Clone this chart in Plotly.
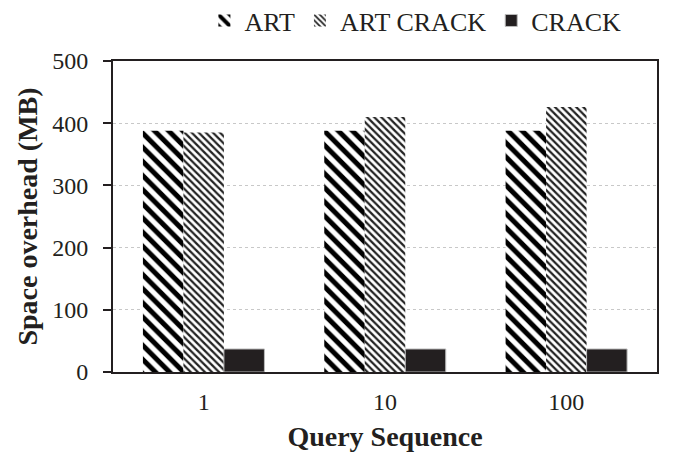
import plotly.graph_objects as go

queries = ["1", "10", "100"]
art = [388, 388, 388]
art_crack = [385, 410, 426]
crack = [37, 37, 37]

fig = go.Figure()

fig.add_trace(go.Bar(
    x=queries, y=art, name="ART",
    marker=dict(color="white", line=dict(width=0),
                pattern=dict(shape="\\", size=10, solidity=0.5,
                             fgcolor="black", bgcolor="white", fgopacity=1)),
))
fig.add_trace(go.Bar(
    x=queries, y=art_crack, name="ART CRACK",
    marker=dict(color="white", line=dict(width=0),
                pattern=dict(shape="\\", size=5, solidity=0.45,
                             fgcolor="#222222", bgcolor="white", fgopacity=1)),
))
fig.add_trace(go.Bar(
    x=queries, y=crack, name="CRACK",
    marker=dict(color="#231f20", line=dict(width=1, color="#bbbbbb")),
))

font = "Liberation Serif, Times New Roman, serif"

# page body adds an 8px offset, margins compensate for it
fig.update_layout(
    width=676, height=471,
    margin=dict(l=105, r=27, t=53, b=107, autoexpand=False),
    barmode="group",
    bargap=0.33,
    bargroupgap=0,
    plot_bgcolor="white",
    paper_bgcolor="white",
    font=dict(family=font, size=24, color="#231f20"),
    legend=dict(orientation="h", x=0.168, xanchor="left", y=1.13, yanchor="middle",
                font=dict(size=26), itemwidth=30, traceorder="normal"),
    xaxis=dict(
        title=dict(text="<b>Query Sequence</b>", font=dict(size=28), standoff=13),
        showline=True, linecolor="#231f20", linewidth=2, mirror=True,
        ticks="", ticklabelstandoff=7,
        tickfont=dict(size=24),
    ),
    yaxis=dict(
        title=dict(text="<b>Space overhead (MB)</b>", font=dict(size=28), standoff=6),
        range=[0, 500], dtick=100,
        showline=True, linecolor="#231f20", linewidth=2, mirror=True,
        ticks="outside", ticklen=8, tickwidth=2, tickcolor="#231f20",
        ticklabelstandoff=10,
        showgrid=True, gridcolor="#c8c8c8", griddash="dot", gridwidth=1,
        zeroline=False,
        tickfont=dict(size=24),
    ),
)

fig.write_html("out.html")
